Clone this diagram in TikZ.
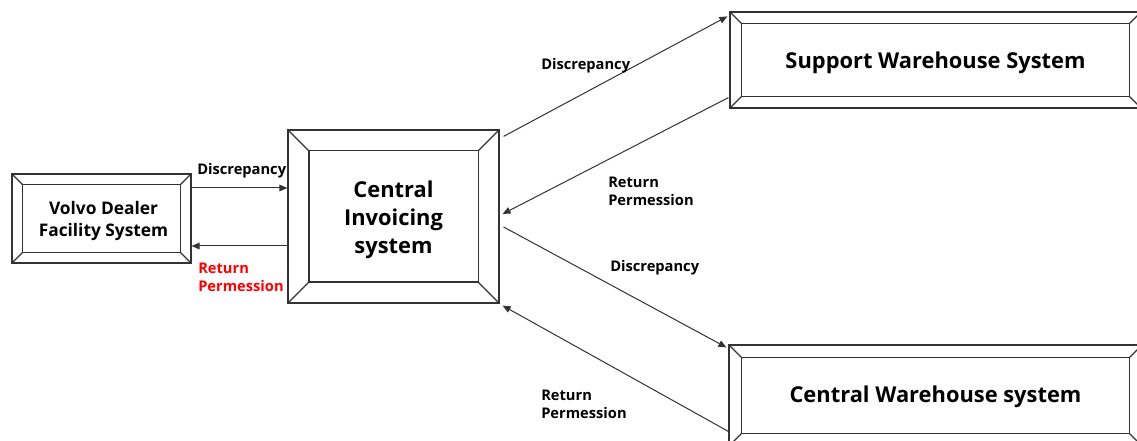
\documentclass[tikz,border=0pt]{standalone}
\usepackage{fontspec}
\setmainfont{Open Sans}
\usetikzlibrary{arrows.meta,calc}
\definecolor{lin}{HTML}{333333}
\definecolor{rd}{HTML}{FF0000}
\newcommand{\bevelframe}[2]{%
  \draw[boxline] ($(#1.north west)+(#2,-#2)$) rectangle ($(#1.south east)+(-#2,#2)$);
  \draw[boxline] (#1.north west) -- ++(#2,-#2);
  \draw[boxline] (#1.north east) -- ++(-#2,-#2);
  \draw[boxline] (#1.south west) -- ++(#2,#2);
  \draw[boxline] (#1.south east) -- ++(-#2,#2);
}
\begin{document}
\begin{tikzpicture}[x=0.75pt,y=0.75pt,
  boxline/.style={draw=lin,line width=0.9pt},
  sysbox/.style={draw=lin,line width=0.9pt,rectangle,inner sep=0pt},
  systext/.style={align=center,inner sep=0pt,font=\bfseries\fontsize{16.4}{21}\selectfont},
  arr/.style={draw=lin,line width=0.75pt,-{Triangle[length=6pt,width=5pt]}},
  lbl/.style={font=\bfseries\fontsize{11}{13.5}\selectfont,align=left,inner sep=0pt,anchor=west}]
\useasboundingbox (0,0) rectangle (1137,-441);
\clip (0,0) rectangle (1137,-441);
\fill[white] (0,0) rectangle (1137,-441);
% boxes
\node[sysbox,minimum width=134.25pt,minimum height=66.75pt] (vdf) at (101.5,-218.5) {};
\bevelframe{vdf}{11}
\node[systext,font=\bfseries\fontsize{13}{16.5}\selectfont] (vdft) at ($(vdf.center)+(2,-2)$) {Volvo Dealer\\Facility System};
\node[sysbox,minimum width=158.25pt,minimum height=129.75pt] (cis) at (393.5,-216.5) {};
\bevelframe{cis}{21.5}
\node[systext] (cist) at ($(cis.center)+(0,-3)$) {Central\\Invoicing\\system};
\node[sysbox,minimum width=308.25pt,minimum height=72pt] (sws) at (935.5,-60) {};
\bevelframe{sws}{12}
\node[systext] (swst) at ($(sws.center)+(0,-3)$) {Support Warehouse System};
\node[sysbox,minimum width=309.75pt,minimum height=75.75pt] (cwh) at (935.5,-395.5) {};
\bevelframe{cwh}{13}
\node[systext] (cwht) at ($(cwh.center)+(0,-1)$) {Central Warehouse system};
% arrows
\draw[arr] (vdf.east |- 0,-188) -- (cis.west |- 0,-188);
\draw[arr] (cis.west |- 0,-246) -- (vdf.east |- 0,-246);
\draw[arr] ($(cis.north east)+(4,-7)$) -- ($(sws.north west)+(-2,-5)$);
\draw[arr] ($(sws.south west)+(-1,11)$) -- ($(cis.east)+(3,2.5)$);
\draw[arr] ($(cis.east)+(4,-10.5)$) -- ($(cwh.north west)+(-2,-3)$);
\draw[arr] ($(cwh.west)+(1,-36.5)$) -- ($(cis.south east)+(3,-2)$);
% labels
\node[lbl] (l1) at (197,-171) {Discrepancy};
\node[lbl,text=rd] (l2) at (198,-277) {Return\\Permession};
\node[lbl] (l3) at (541,-66) {Discrepancy};
\node[lbl] (l4) at (608,-191) {Return\\Permession};
\node[lbl] (l5) at (610,-268) {Discrepancy};
\node[lbl] (l6) at (541,-404) {Return\\Permession};
\end{tikzpicture}
\end{document}
